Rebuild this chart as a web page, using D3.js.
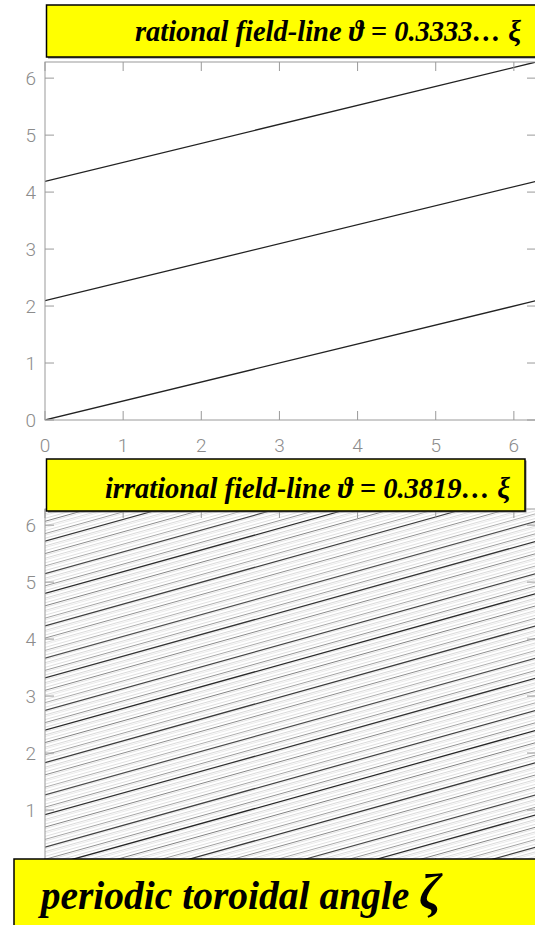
<!DOCTYPE html>
<html>
<head>
<meta charset="UTF-8">
<title>field-line winding</title>
<script src="https://d3js.org/d3.v7.min.js"></script>
<style>
  body { margin: 0; background: #fff; }
  .tick-label { font-family: Roboto, "Liberation Sans", Arial, sans-serif; font-weight: 300; font-size: 19px; fill: #8c8c8c; }
  .box-text { font-family: "Liberation Serif", "Times New Roman", serif; font-weight: bold; font-style: italic; fill: #000; }
</style>
</head>
<body>
<svg id="chart" width="535" height="925"></svg>
<script>
// rotational transforms of the two field lines
const iotas = [1 / 3, 0.381966];

// theta where each toroidal transit starts (zeta = 0)
const rationalStarts = [0, 2.0944, 4.1888];
const irrationalStarts = [
  0, 2.4, 4.8, 0.9168, 3.3168, 5.7168, 1.8336, 4.2336, 0.3504, 2.7504,
  5.1504, 1.2672, 3.6672, 6.0672, 2.184, 4.584, 0.7008, 3.1008, 5.5008, 1.6176,
  4.0176, 0.1344, 2.5344, 4.9344, 1.0512, 3.4512, 5.8512, 1.968, 4.368, 0.4848,
  2.8848, 5.2848, 1.4016, 3.8016, 6.2016, 2.3184, 4.7184, 0.8352, 3.2352, 5.6352,
  1.752, 4.152, 0.2688, 2.6688, 5.0688, 1.1856, 3.5856, 5.9856, 2.1024, 4.5024,
  0.6192, 3.0192, 5.4192, 1.536, 3.936, 0.0528, 2.4528, 4.8528, 0.9696, 3.3696,
  5.7696, 1.8864, 4.2864, 0.4032, 2.8032, 5.2032, 1.32, 3.72, 6.12, 2.2368,
  4.6368, 0.7536, 3.1536, 5.5536, 1.6704, 4.0704, 0.1872, 2.5872, 4.9872, 1.104,
  3.504, 5.904, 2.0208, 4.4208, 0.5376, 2.9376, 5.3376, 1.4544, 3.8544, 6.2544,
  2.3712, 4.7712, 0.888, 3.288, 5.688, 1.8048, 4.2048, 0.3216, 2.7216, 5.1216,
  1.2384, 3.6384, 6.0384, 2.1552, 4.5552, 0.672, 3.072, 5.472, 1.5888, 3.9888,
  0.1056, 2.5056, 4.9056, 1.0224, 3.4224, 5.8224, 1.9392, 4.3392, 0.456, 2.856,
  5.256, 1.3728, 3.7728, 6.1728, 2.2896, 4.6896, 0.8064, 3.2064, 5.6064, 1.7232,
  4.1232, 0.24, 2.64, 5.04, 1.1568, 3.5568, 5.9568, 2.0736, 4.4736, 0.5904,
  2.9904, 5.3904, 1.5072, 3.9072
];

const xTicks = [0, 1, 2, 3, 4, 5, 6];
const yTicks = [0, 1, 2, 3, 4, 5, 6];

const TWO_PI = 2 * Math.PI;
const svg = d3.select("#chart");

const x = d3.scaleLinear().domain([0, TWO_PI]).range([45, 536]);
const yTop = d3.scaleLinear().domain([0, TWO_PI]).range([420, 62]);
const yBot = d3.scaleLinear().domain([0, TWO_PI]).range([867, 509]);

// gray level by transit number: first transits dark, later ones faint
const shade = d3.scaleLinear()
  .domain([0, 12, 13, 33, 34, 143])
  .range(["#262626", "#505050", "#808080", "#b0b0b0", "#d8d8d8", "#ececec"]);

// split one transit into pieces that stay inside [0, 2pi]
function transitPieces(theta0, iota) {
  const theta1 = theta0 + TWO_PI * iota;
  if (theta1 <= TWO_PI + 1e-3) return [[[0, theta0], [TWO_PI, Math.min(theta1, TWO_PI)]]];
  const zw = (TWO_PI - theta0) / iota;
  return [[[0, theta0], [zw, TWO_PI]], [[zw, 0], [TWO_PI, theta1 - TWO_PI]]];
}

function drawPanel(id, y, starts, iota, colorOf, widthOf, showX) {
  const g = svg.append("g");
  g.append("clipPath").attr("id", id)
    .append("rect")
    .attr("x", x(0)).attr("y", y(TWO_PI))
    .attr("width", x(TWO_PI) - x(0)).attr("height", y(0) - y(TWO_PI));

  const line = d3.line().x(d => x(d[0])).y(d => y(d[1]));
  const segs = [];
  starts.forEach((t, i) => transitPieces(t, iota).forEach(p => segs.push({ i, p })));
  segs.sort((a, b) => b.i - a.i);

  g.append("g").attr("clip-path", `url(#${id})`)
    .selectAll("path").data(segs).enter().append("path")
    .attr("d", d => line(d.p))
    .attr("fill", "none")
    .attr("stroke", d => colorOf(d.i))
    .attr("stroke-width", d => widthOf(d.i));

  // frame
  g.append("rect")
    .attr("x", x(0)).attr("y", y(TWO_PI))
    .attr("width", x(TWO_PI) - x(0)).attr("height", y(0) - y(TWO_PI))
    .attr("fill", "none").attr("stroke", "#9a9a9a").attr("stroke-width", 1);

  // ticks on all four sides, pointing in
  const tk = 9;
  g.append("g").selectAll("line").data(xTicks).enter().append("line")
    .attr("x1", d => x(d)).attr("x2", d => x(d))
    .attr("y1", y(0)).attr("y2", y(0) - tk)
    .attr("stroke", "#9a9a9a");
  g.append("g").selectAll("line").data(xTicks).enter().append("line")
    .attr("x1", d => x(d)).attr("x2", d => x(d))
    .attr("y1", y(TWO_PI)).attr("y2", y(TWO_PI) + tk)
    .attr("stroke", "#9a9a9a");
  g.append("g").selectAll("line").data(yTicks).enter().append("line")
    .attr("x1", x(0)).attr("x2", x(0) + tk)
    .attr("y1", d => y(d)).attr("y2", d => y(d))
    .attr("stroke", "#9a9a9a");
  g.append("g").selectAll("line").data(yTicks).enter().append("line")
    .attr("x1", x(TWO_PI)).attr("x2", x(TWO_PI) - tk)
    .attr("y1", d => y(d)).attr("y2", d => y(d))
    .attr("stroke", "#9a9a9a");

  g.append("g").selectAll("text").data(yTicks).enter().append("text")
    .attr("class", "tick-label")
    .attr("x", x(0) - 9).attr("y", d => y(d))
    .attr("dy", "0.36em").attr("text-anchor", "end")
    .text(d => d);
  // the lower panel's x labels sit under the bottom label box
  if (showX) {
    g.append("g").selectAll("text").data(xTicks).enter().append("text")
      .attr("class", "tick-label")
      .attr("x", d => x(d)).attr("y", y(0) + 32)
      .attr("text-anchor", "middle")
      .text(d => d);
  }
}

drawPanel("clipTop", yTop, rationalStarts, iotas[0], () => "#222", () => 1.3, true);
drawPanel("clipBot", yBot, irrationalStarts, iotas[1], shade, i => (i < 13 ? 1.25 : 1), false);

// yellow label boxes
function labelBox(x0, y0, w, h) {
  svg.append("rect").attr("x", x0 + 1.5).attr("y", y0 + 1.5).attr("width", w).attr("height", h)
    .attr("fill", "#7a7a7a");
  svg.append("rect").attr("x", x0).attr("y", y0).attr("width", w).attr("height", h)
    .attr("fill", "#ffff00").attr("stroke", "#000").attr("stroke-width", 1.5);
}

labelBox(46.5, 5, 500, 52);
svg.append("text").attr("class", "box-text")
  .attr("x", 521).attr("y", 41).attr("text-anchor", "end")
  .style("font-size", "28.5px")
  .text("rational field-line \u03D1 = 0.3333\u2026 \u03BE");

labelBox(46.5, 459, 478.5, 52);
svg.append("text").attr("class", "box-text")
  .attr("x", 510).attr("y", 498).attr("text-anchor", "end")
  .style("font-size", "28.5px")
  .text("irrational field-line \u03D1 = 0.3819\u2026 \u03BE");

labelBox(14, 859, 540, 80);
const bottomText = svg.append("text").attr("class", "box-text")
  .attr("x", 241).attr("y", 909).attr("text-anchor", "middle")
  .style("font-size", "39.5px");
bottomText.append("tspan").text("periodic toroidal angle ");
bottomText.append("tspan").style("font-size", "50px").text("\u03B6");
</script>
</body>
</html>
